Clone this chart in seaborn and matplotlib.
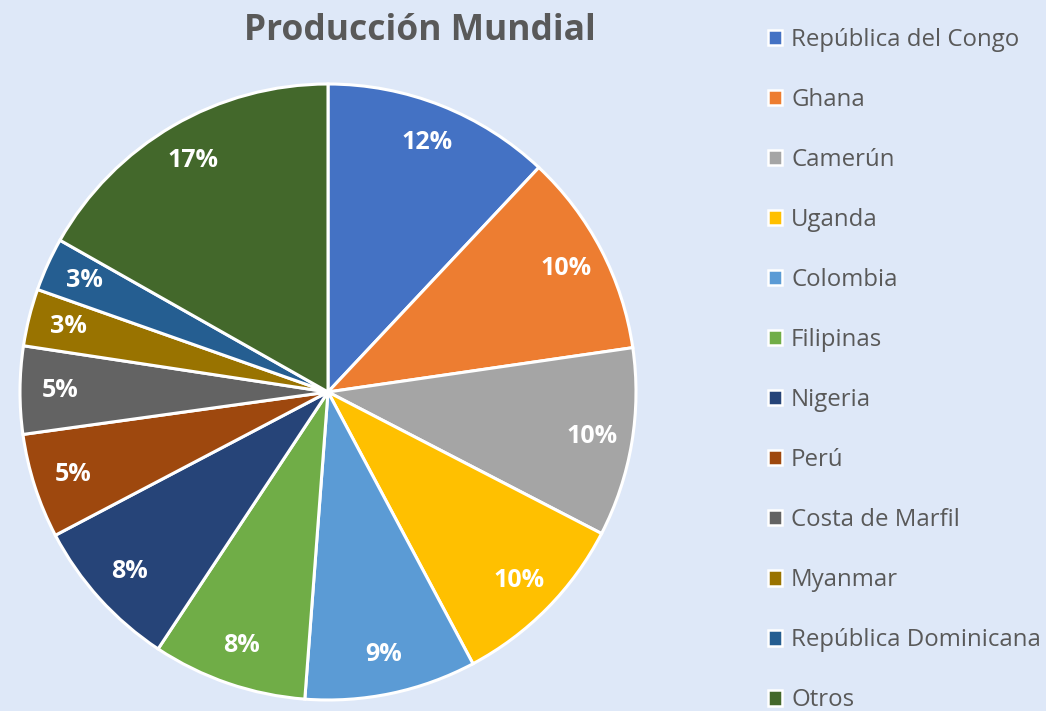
import matplotlib
matplotlib.use("Agg")
import numpy as np
import matplotlib.pyplot as plt
import seaborn as sns
from matplotlib.patches import Patch

# --- datos ---
paises = ["República del Congo", "Ghana", "Camerún", "Uganda", "Colombia",
          "Filipinas", "Nigeria", "Perú", "Costa de Marfil", "Myanmar",
          "República Dominicana", "Otros"]
participacion = [12.0, 10.7, 9.9, 9.6, 9.0, 8.1, 8.0, 5.5, 4.6, 3.0, 2.8, 16.8]
etiquetas = ["12%", "10%", "10%", "10%", "9%", "8%", "8%", "5%", "5%", "3%", "3%", "17%"]
colores = ["#4472C4", "#ED7D31", "#A5A5A5", "#FFC000", "#5B9BD5", "#70AD47",
           "#264478", "#9E480E", "#636363", "#997300", "#255E91", "#43682B"]

fondo = "#DEE8F8"
gris = "#595959"

sns.set_style("white")
plt.rcParams["font.family"] = ["Open Sans", "DejaVu Sans"]

fig = plt.figure(figsize=(10.46, 7.11), dpi=100, facecolor=fondo)
# pie centrado en (328, 392) px con radio 308 px
ax = fig.add_axes([20 / 1046, 11 / 711, 616 / 1046, 616 / 711])
ax.set_facecolor(fondo)

wedges, _ = ax.pie(participacion, colors=colores, startangle=90, counterclock=False,
                   radius=1.0, wedgeprops=dict(edgecolor="white", linewidth=2.2))
ax.set_xlim(-1.0, 1.0)
ax.set_ylim(-1.0, 1.0)
ax.set_aspect("equal")
ax.axis("off")

for w, txt in zip(wedges, etiquetas):
    ang = np.deg2rad((w.theta1 + w.theta2) / 2)
    r = 0.87
    ax.text(r * np.cos(ang), r * np.sin(ang), txt, ha="center", va="center",
            color="white", fontsize=18, fontweight="bold")

fig.text(420 / 1046, 1 - 31 / 711, "Producción Mundial", ha="center", va="center",
         fontsize=25.5, fontweight="bold", color=gris)

handles = [Patch(facecolor=c, edgecolor="white", linewidth=1.8) for c in colores]
leg = fig.legend(handles, paises, loc="upper left",
                 bbox_to_anchor=(768 / 1046, 1 - 28 / 711), frameon=False,
                 fontsize=17.3, labelspacing=1.5, handlelength=0.6, handleheight=0.6,
                 handletextpad=0.36, borderaxespad=0, borderpad=0)
for t in leg.get_texts():
    t.set_color(gris)

fig.savefig("out.png", dpi=100, facecolor=fondo)
